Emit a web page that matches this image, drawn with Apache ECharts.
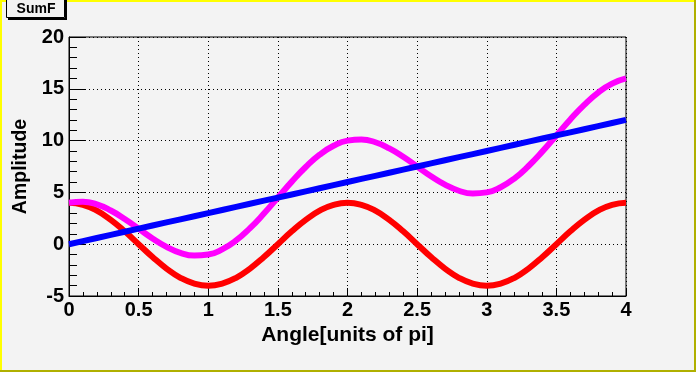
<!DOCTYPE html>
<html><head><meta charset="utf-8">
<script src="https://cdn.jsdelivr.net/npm/echarts@6/dist/echarts.min.js"></script>
<style>html,body{margin:0;padding:0;background:#f3f3f3}#c{width:696px;height:372px}</style>
</head><body><div id="c"></div>
<script>
const xValues = [0,0.1,0.2,0.3,0.4,0.5,0.6,0.7,0.8,0.9,1,1.1,1.2,1.3,1.4,1.5,1.6,1.7,1.8,1.9,2,2.1,2.2,2.3,2.4,2.5,2.6,2.7,2.8,2.9,3,3.1,3.2,3.3,3.4,3.5,3.6,3.7,3.8,3.9,4];
const redValues = [4,3.8,3.24,2.35,1.24,0,-1.24,-2.35,-3.24,-3.8,-4,-3.8,-3.24,-2.35,-1.24,0,1.24,2.35,3.24,3.8,4,3.8,3.24,2.35,1.24,0,-1.24,-2.35,-3.24,-3.8,-4,-3.8,-3.24,-2.35,-1.24,0,1.24,2.35,3.24,3.8,4];
const blueValues = [0,0.3,0.6,0.9,1.2,1.5,1.8,2.1,2.4,2.7,3,3.3,3.6,3.9,4.2,4.5,4.8,5.1,5.4,5.7,6,6.3,6.6,6.9,7.2,7.5,7.8,8.1,8.4,8.7,9,9.3,9.6,9.9,10.2,10.5,10.8,11.1,11.4,11.7,12];
const magentaValues = [4,4.1,3.84,3.25,2.44,1.5,0.56,-0.25,-0.84,-1.1,-1,-0.5,0.36,1.55,2.96,4.5,6.04,7.45,8.64,9.5,10,10.1,9.84,9.25,8.44,7.5,6.56,5.75,5.16,4.9,5,5.5,6.36,7.55,8.96,10.5,12.04,13.45,14.64,15.5,16];
const xAxisTitle = 'Angle[units of pi]';
const yAxisTitle = 'Amplitude';
const boxTitle = 'SumF';

const FONT = 'Liberation Sans, Arial, Helvetica, sans-serif';
const chart = echarts.init(document.getElementById('c'), null, {renderer: 'canvas'});
const pairs = vals => xValues.map((x, i) => [x, vals[i]]);
const dotted = {color: '#000', width: 1, type: [1, 3]};
chart.setOption({
  animation: false,
  backgroundColor: '#f3f3f3',
  grid: {left: 69, right: 70, top: 37, bottom: 76, show: true, borderColor: '#000', borderWidth: 1, backgroundColor: 'transparent'},
  xAxis: {
    type: 'value', min: 0, max: 4, interval: 0.5,
    axisLine: {show: true, onZero: false, lineStyle: {color: '#000', width: 1}},
    axisTick: {show: true, inside: true, length: 8, lineStyle: {color: '#000'}},
    minorTick: {show: true, splitNumber: 5, length: 4, lineStyle: {color: '#000'}},
    splitLine: {show: true, lineStyle: dotted},
    axisLabel: {color: '#000', fontFamily: FONT, fontWeight: 'bold', fontSize: 20, margin: 4, showMinLabel: true, showMaxLabel: true},
    name: xAxisTitle, nameLocation: 'middle', nameGap: 25,
    nameTextStyle: {color: '#000', fontFamily: FONT, fontWeight: 'bold', fontSize: 21}
  },
  yAxis: {
    type: 'value', min: -5, max: 20, interval: 5,
    axisLine: {show: true, onZero: false, lineStyle: {color: '#000', width: 1}},
    axisTick: {show: true, inside: true, length: 16, lineStyle: {color: '#000'}},
    minorTick: {show: true, splitNumber: 5, length: 8, lineStyle: {color: '#000'}},
    splitLine: {show: true, lineStyle: dotted},
    axisLabel: {color: '#000', fontFamily: FONT, fontWeight: 'bold', fontSize: 20, margin: 5, showMinLabel: true, showMaxLabel: true},
    name: yAxisTitle, nameLocation: 'middle', nameGap: 38, nameRotate: 90,
    nameTextStyle: {color: '#000', fontFamily: FONT, fontWeight: 'bold', fontSize: 19.5}
  },
  series: [
    {type: 'line', data: pairs(redValues), smooth: true, showSymbol: false, lineStyle: {color: '#ff0000', width: 6}, z: 2},
    {type: 'line', data: pairs(magentaValues), smooth: true, showSymbol: false, lineStyle: {color: '#ff00ff', width: 6}, z: 3},
    {type: 'line', data: pairs(blueValues), smooth: false, showSymbol: false, lineStyle: {color: '#0000ff', width: 6}, z: 4}
  ],
  graphic: [
    {type: 'rect', shape: {x: 0, y: 0, width: 696, height: 2}, style: {fill: '#ffff00'}, z: 100},
    {type: 'rect', shape: {x: 0, y: 0, width: 2, height: 372}, style: {fill: '#ffff00'}, z: 100},
    {type: 'rect', shape: {x: 694, y: 0, width: 2, height: 372}, style: {fill: '#b0b000'}, z: 100},
    {type: 'rect', shape: {x: 0, y: 370, width: 696, height: 2}, style: {fill: '#b0b000'}, z: 100},
    {type: 'rect', shape: {x: 6.5, y: -1.5, width: 58, height: 19}, style: {fill: '#f3f3f3', stroke: '#000', lineWidth: 1}, z: 101},
    {type: 'rect', shape: {x: 65, y: 0, width: 2, height: 20}, style: {fill: '#000'}, z: 101},
    {type: 'rect', shape: {x: 8, y: 18, width: 59, height: 2}, style: {fill: '#000'}, z: 101},
    {type: 'text', x: 36, y: 9, style: {text: boxTitle, fill: '#000', font: 'bold 14px ' + FONT, textAlign: 'center', textVerticalAlign: 'middle'}, z: 102}
  ]
});
</script></body></html>
